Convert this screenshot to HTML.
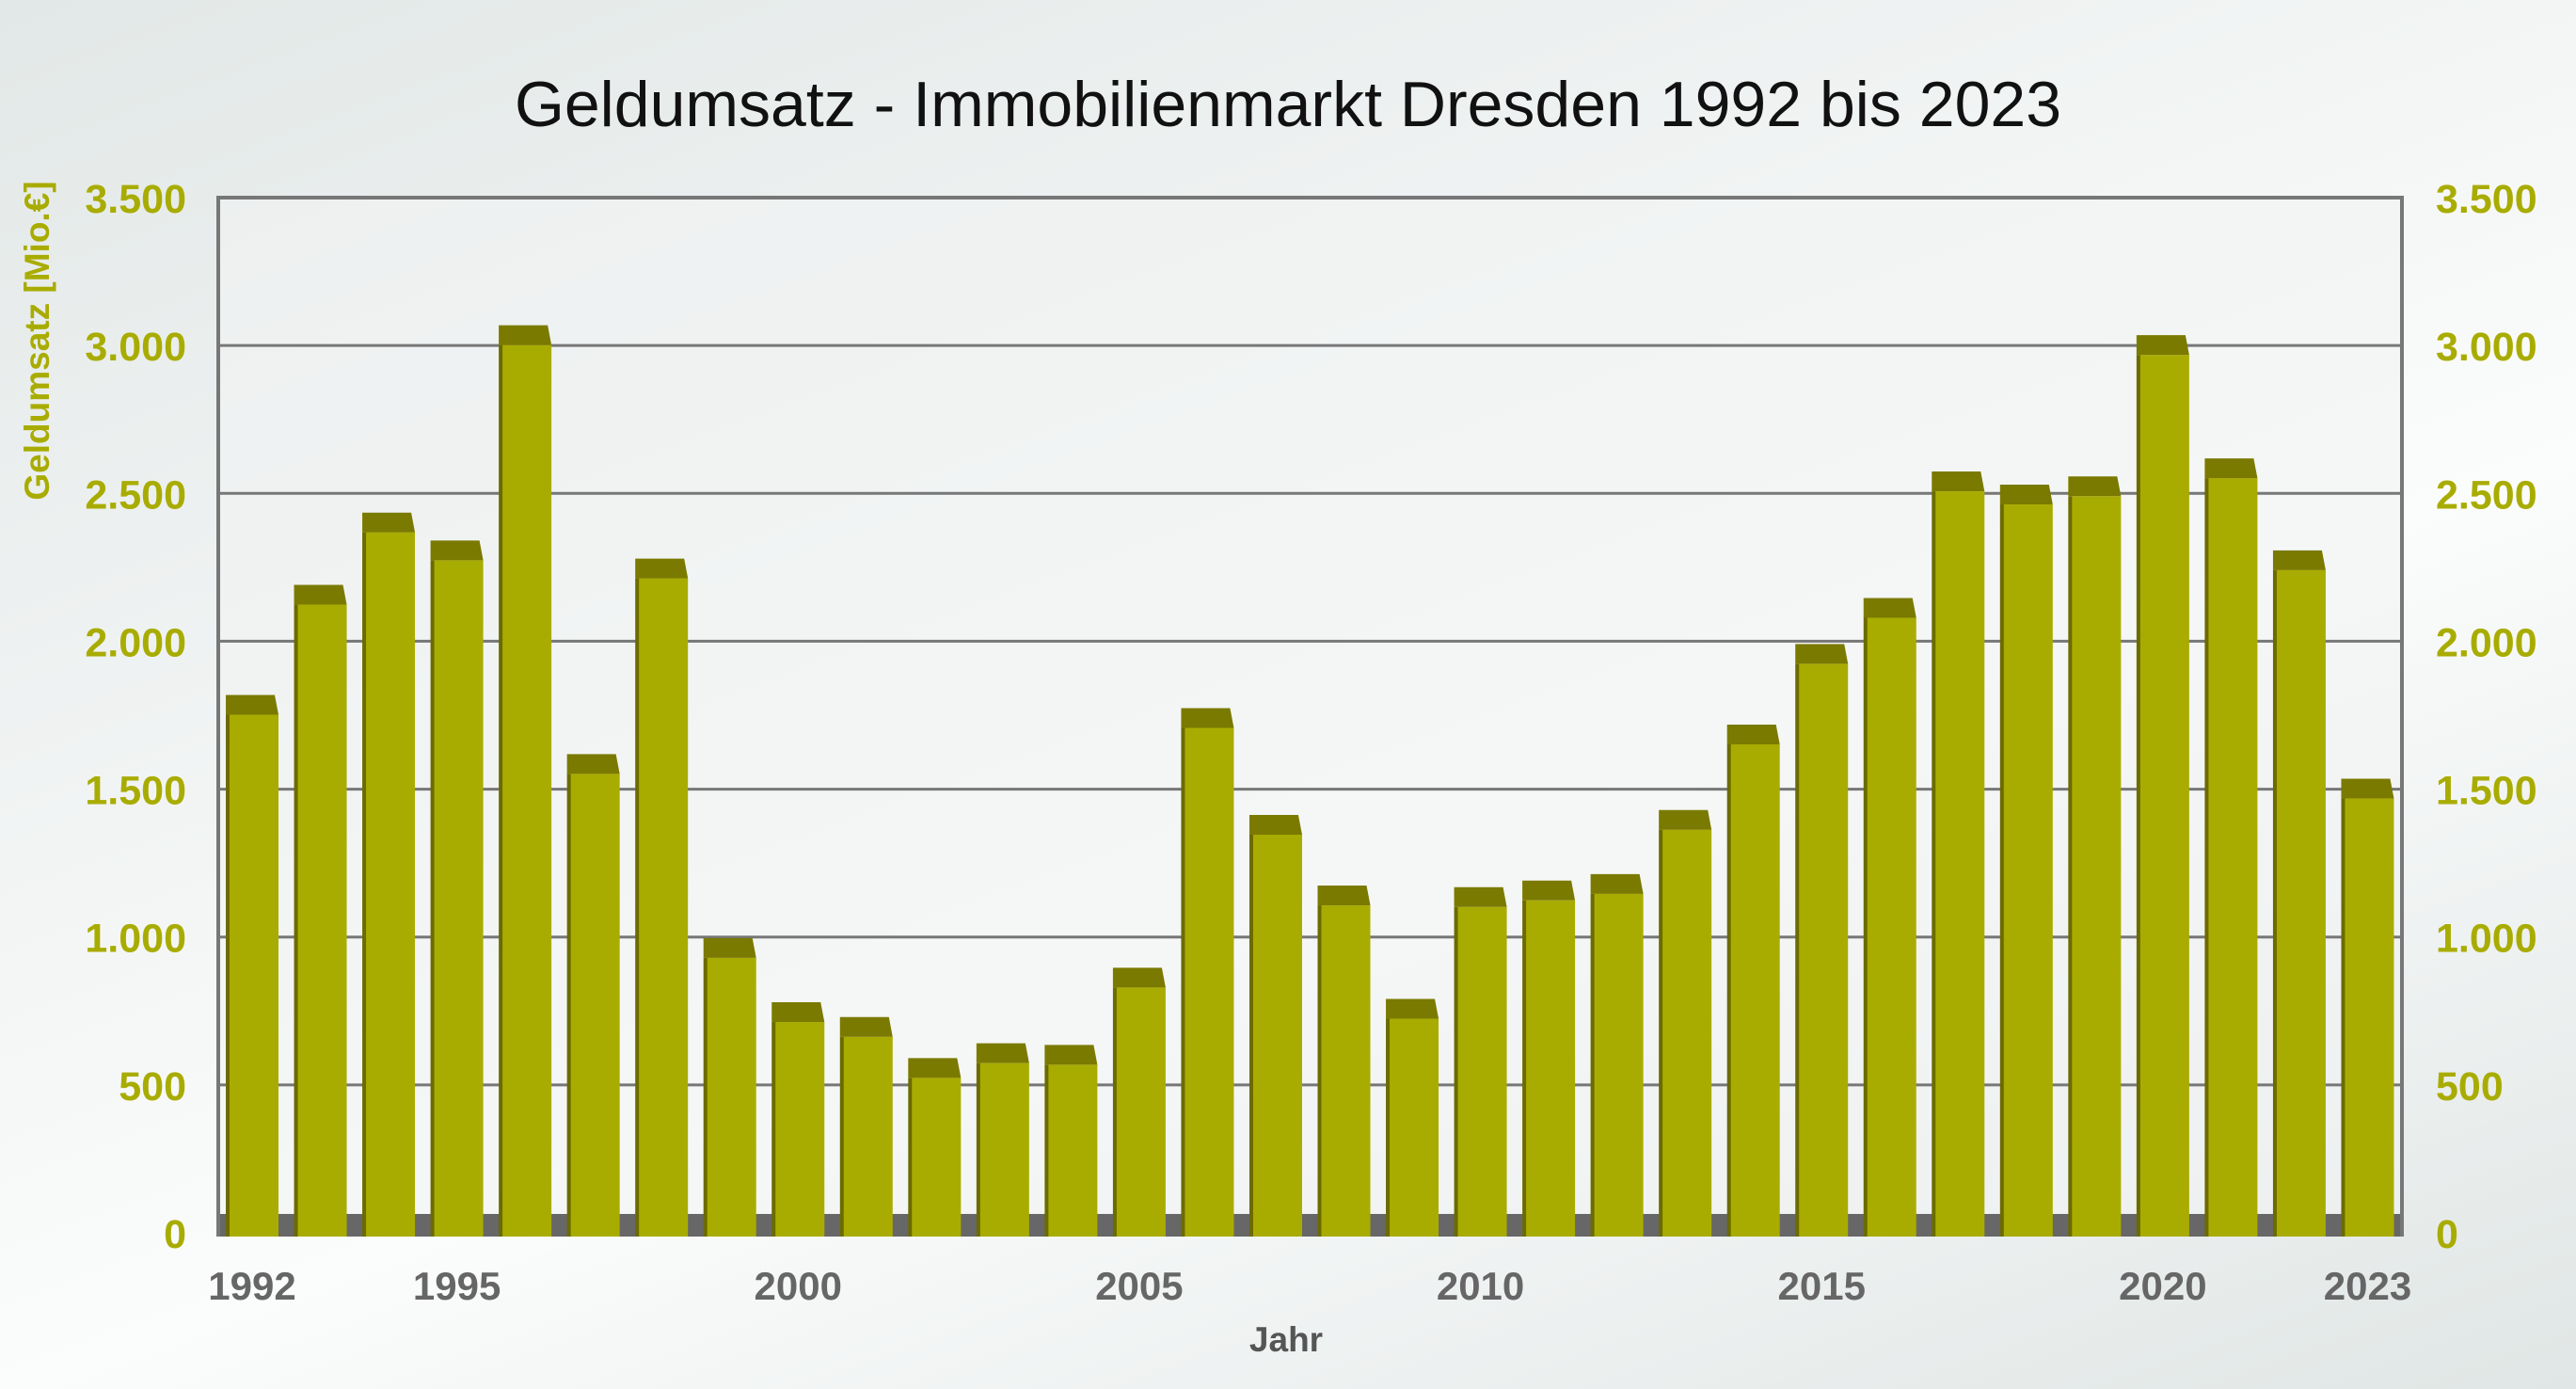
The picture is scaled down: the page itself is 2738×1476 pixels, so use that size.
<!DOCTYPE html>
<html><head><meta charset="utf-8">
<style>
html,body{margin:0;padding:0;}
body{width:2738px;height:1476px;overflow:hidden;background:linear-gradient(160deg,#e2e8e7 0%,#f3f5f5 40%,#fbfcfc 60%,#e0e6e5 100%);}
svg{display:block;}
</style></head><body>
<svg id="c" width="2738" height="1476" xmlns="http://www.w3.org/2000/svg" font-family="'Liberation Sans',sans-serif">
<rect x="232" y="210" width="2321" height="1100" fill="#f2f4f4" opacity="0.6"/>
<g id="grid"></g>
<rect x="232" y="1290" width="2321" height="24" fill="#676767"/>
<g id="bars"></g>
<path d="M232 1314 V210 H2553 V1314" fill="none" stroke="#777" stroke-width="4"/>
<text x="1369" y="134" font-size="68" text-anchor="middle" fill="#111">Geldumsatz - Immobilienmarkt Dresden 1992 bis 2023</text>
<text transform="translate(52,362) rotate(-90)" font-size="37" font-weight="bold" fill="#a9ac00" text-anchor="middle">Geldumsatz [Mio.€]</text>
<g id="lab" font-weight="bold" font-size="43" fill="#a9ac00"></g>
<g id="xl" font-weight="bold" font-size="42" fill="#666" text-anchor="middle"></g>
<text x="1367" y="1436" font-size="37" font-weight="bold" fill="#555" text-anchor="middle">Jahr</text>
</svg>
<script>
var ns="http://www.w3.org/2000/svg";
function el(p,t,a,txt){var e=document.createElementNS(ns,t);for(var k in a)e.setAttribute(k,a[k]);if(txt!=null)e.textContent=txt;document.getElementById(p).appendChild(e);}
var labs=["0","500","1.000","1.500","2.000","2.500","3.000","3.500"];
for(var i=0;i<8;i++){var y=1310-i*1100/7;
 if(i>0&&i<7) el("grid","line",{x1:232,x2:2553,y1:y,y2:y,stroke:"#777","stroke-width":3});
 el("lab","text",{x:198,y:y+16,"text-anchor":"end"},labs[i]);
 el("lab","text",{x:2589,y:y+16},labs[i]);}
var dy=[435,368,324,341,210,471,352,583,622,631,656,647,648,601,443,508,551,620,552,548,544,505,453,404,376,299,307,302,216,291,347,486];
var step=2321/32;
for(var i=0;i<32;i++){var x=232+i*step+8,y=dy[i]*1.746,w=56;
 el("bars","rect",{x:x,y:y,width:5,height:1314-y,fill:"#6b6b00"});
 el("bars","rect",{x:x+4,y:y,width:w-4,height:1314-y,fill:"#a9ac00"});
 el("bars","polygon",{points:(x)+","+(y-21)+" "+(x+w-4)+","+(y-21)+" "+(x+w)+","+y+" "+(x)+","+y,fill:"#7a7a00"});
 var yr=1992+i;
 if([1992,1995,2000,2005,2010,2015,2020,2023].indexOf(yr)>=0) el("xl","text",{x:x+w/2,y:1381},String(yr));}
</script>
</body></html>
